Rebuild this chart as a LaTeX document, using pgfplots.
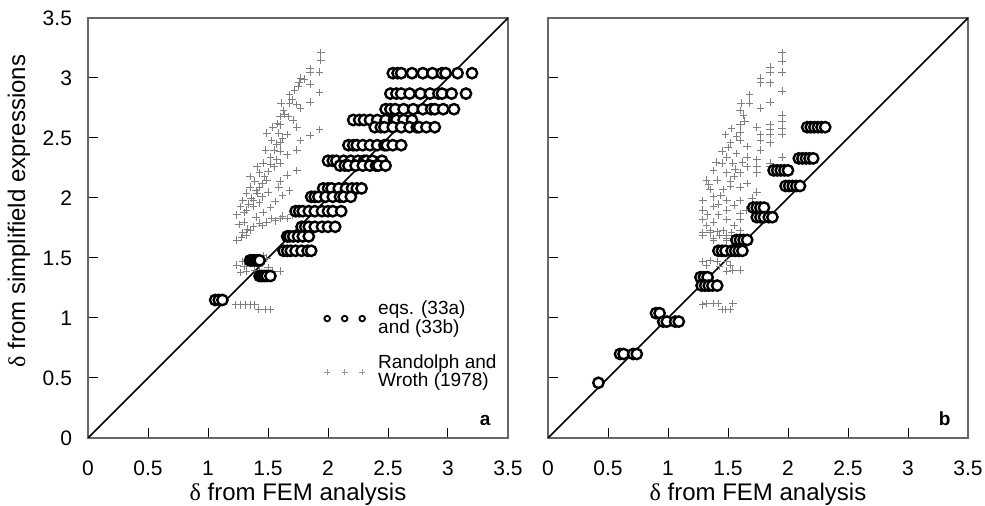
\documentclass[border=0pt]{standalone}
\usepackage{fontspec}
\setmainfont{Liberation Sans}
\newfontfamily\grk{Liberation Serif}
\usepackage{pgfplots}
\pgfplotsset{compat=1.18}
\pgfplotsset{
  panel/.style={
    scale only axis, width=210pt, height=210pt,
    xmin=0, xmax=3.5, ymin=0, ymax=3.5,
    xtick={0,0.5,1,1.5,2,2.5,3,3.5},
    ytick={0,0.5,1,1.5,2,2.5,3,3.5},
    tick align=inside, xtick pos=bottom, ytick pos=left,
    major tick length=5pt,
    tick style={black, line width=0.5pt},
    axis line style={black!60, line width=0.7pt},
    /pgf/number format/assume math mode=true,
    ticklabel style={font=\fontsize{10.5}{12}\selectfont},
    xticklabel style={anchor=base, yshift=-19pt},
    yticklabel style={xshift=-4.5pt},
    label style={font=\fontsize{12}{14}\selectfont},
    xlabel style={at={(axis description cs:0.5,-0.15)}, anchor=base},
    ylabel style={at={(axis description cs:-0.15,0.54)}, anchor=base},
    xlabel={{\grk δ} from FEM analysis},
  },
  threemarks/.style={legend image code/.code={\draw[##1] plot coordinates {(0pt,0pt)}; \draw[##1] plot coordinates {(8.75pt,0pt)}; \draw[##1] plot coordinates {(17.5pt,0pt)};}},
  crs/.style={only marks, mark=+, mark size=1.9pt, mark options={draw=black!50, line width=0.4pt}, forget plot},
  circ/.style={only marks, mark=*, mark size=2.6pt, mark options={draw=black, fill=white, line width=1.2pt}, forget plot},
  diag/.style={black, line width=0.8pt, forget plot},
}
\begin{document}
\begin{tikzpicture}
\useasboundingbox (0,0) rectangle (492.5pt,253pt);
\begin{axis}[panel, at={(44pt,34pt)}, anchor=south west,
  ylabel={{\grk δ} from simplifield expressions},
  legend style={at={(axis cs:1.965,1.18)}, anchor=north west, draw=none, fill=none,
    inner sep=0pt, row sep=5pt, font=\fontsize{9.5}{9.4}\selectfont, nodes={align=left},
    /tikz/every odd column/.append style={column sep=4.5pt}},
  legend cell align=left]
\addplot[crs] coordinates {
(1.94,3.21)(1.94,3.15)(1.85,3.08)(1.93,3.05)(1.85,3.05)(1.77,3.00)(1.76,2.96)(1.85,2.95)(1.75,2.93)(1.93,2.88)
(1.68,2.86)(1.85,2.80)(1.61,2.79)(1.68,2.79)(1.77,2.75)(1.74,2.78)(1.63,2.73)(1.60,2.68)(1.67,2.68)(1.71,2.65)
(1.54,2.59)(1.60,2.61)(1.74,2.59)(1.93,2.57)(1.85,2.52)(1.49,2.54)(1.59,2.54)(1.66,2.53)(1.77,2.48)(1.53,2.48)
(1.60,2.46)(1.48,2.40)(1.60,2.39)(1.66,2.36)(1.74,2.40)(1.52,2.34)(1.57,2.32)(1.46,2.29)(1.41,2.26)(1.52,2.28)
(1.60,2.29)(1.74,2.23)(1.66,2.19)(1.43,2.21)(1.35,2.18)(1.49,2.15)(1.39,2.14)(1.60,2.14)(1.59,2.09)(1.35,2.09)
(1.43,2.09)(1.32,2.04)(1.41,2.04)(1.50,2.05)(1.29,1.98)(1.38,1.98)(1.45,2.01)(1.27,1.93)(1.32,1.90)(1.24,1.86)
(1.38,1.93)(1.43,1.96)(1.60,1.83)(1.66,1.83)(1.53,1.83)(1.49,1.80)(1.43,1.79)(1.38,1.76)(1.35,1.73)(1.29,1.71)
(1.24,1.65)(1.32,1.69)
(1.30,1.88)(1.34,1.95)(1.36,2.00)(1.40,2.06)(1.45,2.12)(1.47,2.18)(1.50,2.22)(1.55,2.26)(1.55,2.40)(1.57,2.45)
(1.62,2.50)(1.58,2.62)(1.64,2.70)(1.70,2.82)(1.72,2.90)(1.80,2.99)(1.26,1.78)(1.30,1.80)(1.40,1.84)(1.46,1.88)
(1.52,1.92)(1.56,1.97)(1.62,2.02)(1.68,2.06)(1.28,1.67)(1.33,1.74)(1.45,1.77)(1.56,1.81)(1.62,1.85)(1.70,1.86)
(1.24,1.44)(1.29,1.47)(1.35,1.46)(1.43,1.43)(1.27,1.38)(1.32,1.39)(1.54,1.39)(1.60,1.39)(1.49,1.50)
(1.37,1.50)(1.42,1.48)(1.46,1.52)(1.30,1.43)(1.39,1.40)(1.50,1.42)
(1.23,1.11)(1.27,1.11)(1.31,1.11)(1.35,1.11)(1.39,1.11)(1.42,1.07)(1.48,1.07)(1.52,1.07)
};
\addplot[circ] coordinates {
(2.54,3.04)(2.58,3.04)(2.61,3.04)(2.70,3.04)(2.79,3.04)(2.87,3.04)(2.95,3.04)(2.98,3.04)(3.08,3.04)(3.20,3.04)
(2.52,2.87)(2.57,2.87)(2.61,2.87)(2.68,2.87)(2.77,2.87)(2.85,2.87)(2.92,2.87)(2.95,2.87)(3.03,2.87)(3.15,2.87)
(2.48,2.74)(2.52,2.74)(2.56,2.74)(2.63,2.74)(2.71,2.74)(2.79,2.74)(2.86,2.74)(2.89,2.74)(2.96,2.74)(3.05,2.74)
(2.21,2.65)(2.26,2.65)(2.30,2.65)(2.35,2.65)(2.41,2.65)(2.48,2.65)(2.55,2.65)(2.57,2.65)(2.63,2.65)(2.70,2.65)
(2.39,2.59)(2.44,2.59)(2.47,2.59)(2.54,2.59)(2.61,2.59)(2.68,2.59)(2.74,2.59)(2.76,2.59)(2.82,2.59)(2.89,2.59)
(2.17,2.44)(2.21,2.44)(2.24,2.44)(2.29,2.44)(2.35,2.44)(2.41,2.44)(2.47,2.44)(2.49,2.44)(2.54,2.44)(2.61,2.44)
(2.00,2.31)(2.04,2.31)(2.07,2.31)(2.13,2.31)(2.19,2.31)(2.25,2.31)(2.30,2.31)(2.32,2.31)(2.37,2.31)(2.45,2.31)
(2.10,2.27)(2.14,2.27)(2.17,2.27)(2.23,2.27)(2.29,2.27)(2.35,2.27)(2.40,2.27)(2.42,2.27)(2.48,2.27)
(1.96,2.08)(2.00,2.08)(2.03,2.08)(2.09,2.08)(2.15,2.08)(2.20,2.08)(2.24,2.08)(2.28,2.08)
(1.86,2.01)(1.89,2.01)(1.92,2.01)(1.98,2.01)(2.04,2.01)(2.10,2.01)(2.13,2.01)(2.19,2.01)
(1.73,1.89)(1.76,1.89)(1.79,1.89)(1.84,1.89)(1.89,1.89)(1.95,1.89)(2.00,1.89)(2.04,1.89)(2.11,1.89)
(1.78,1.76)(1.81,1.76)(1.84,1.76)(1.89,1.76)(1.95,1.76)(2.00,1.76)(2.06,1.76)
(1.66,1.68)(1.68,1.68)(1.71,1.68)(1.75,1.68)(1.79,1.68)(1.84,1.68)
(1.63,1.56)(1.66,1.56)(1.69,1.56)(1.73,1.56)(1.78,1.56)(1.83,1.56)(1.86,1.56)
(1.35,1.48)(1.37,1.48)(1.39,1.48)(1.41,1.48)(1.43,1.48)
(1.43,1.35)(1.45,1.35)(1.47,1.35)(1.49,1.35)(1.52,1.35)
(1.06,1.15)(1.09,1.15)(1.12,1.15)
};
\addplot[diag] coordinates {(0,0) (3.5,3.5)};
\addlegendimage{only marks, mark=*, mark size=1.4pt, mark options={draw=black, fill=white, line width=0.9pt}, threemarks}
\addlegendentry{eqs. (33a)\\and (33b)}
\addlegendimage{only marks, mark=+, mark size=1.5pt, mark options={draw=black!40, line width=0.4pt}, threemarks}
\addlegendentry{Randolph and\\Wroth (1978)}
\node[anchor=base east, font=\bfseries\fontsize{9.5}{10}\selectfont] at (rel axis cs:0.975,0.03) {a};
\end{axis}
\begin{axis}[panel, at={(274pt,34pt)}, anchor=south west, yticklabels={}]
\addplot[crs] coordinates {
(1.95,3.21)(1.95,3.14)(1.85,3.09)(1.95,3.05)(1.85,3.05)(1.77,3.00)(1.77,2.96)(1.85,2.96)(1.95,2.89)(1.68,2.86)
(1.85,2.80)(1.61,2.79)(1.68,2.79)(1.77,2.75)(1.60,2.73)(1.63,2.69)(1.95,2.69)(1.95,2.64)(1.85,2.61)(1.95,2.58)
(1.85,2.57)(1.95,2.53)(1.85,2.53)(1.60,2.61)(1.53,2.58)(1.60,2.55)(1.74,2.59)(1.77,2.53)(1.77,2.48)(1.48,2.53)
(1.52,2.46)(1.60,2.48)(1.66,2.43)(1.77,2.40)(1.85,2.46)(1.45,2.39)(1.57,2.37)(1.49,2.34)(1.66,2.34)(1.74,2.32)
(1.95,2.34)(1.45,2.29)(1.54,2.29)(1.66,2.26)(1.74,2.26)(1.85,2.29)(1.38,2.23)(1.49,2.21)(1.60,2.21)(1.74,2.21)
(1.85,2.26)(1.32,2.15)(1.41,2.15)(1.52,2.14)(1.66,2.12)(1.35,2.07)(1.46,2.07)(1.60,2.09)(1.29,1.98)(1.38,2.01)
(1.49,1.98)(1.60,1.98)(1.74,2.05)(1.29,1.90)(1.38,1.93)(1.49,1.90)(1.60,1.87)(1.29,1.82)(1.38,1.80)(1.49,1.82)
(1.60,1.82)(1.29,1.71)(1.35,1.73)(1.46,1.73)(1.53,1.71)(1.60,1.73)(1.38,1.65)(1.49,1.66)
(1.33,1.86)(1.42,1.95)(1.44,2.02)(1.52,2.10)(1.55,2.18)(1.56,2.24)(1.62,2.30)(1.50,2.42)(1.57,2.51)(1.64,2.64)
(1.32,1.77)(1.42,1.86)(1.55,1.94)(1.43,1.69)(1.55,1.77)(1.65,1.90)(1.70,2.00)(1.34,2.11)(1.40,2.30)
(1.29,1.69)(1.35,1.71)(1.41,1.72)(1.49,1.69)(1.38,1.66)(1.49,1.65)
(1.29,1.47)(1.35,1.48)(1.41,1.47)(1.49,1.47)(1.32,1.44)(1.43,1.43)(1.52,1.44)(1.49,1.39)(1.54,1.40)(1.60,1.40)
(1.29,1.11)(1.32,1.12)(1.38,1.12)(1.42,1.12)(1.45,1.07)(1.48,1.07)(1.52,1.07)(1.54,1.12)
};
\addplot[circ] coordinates {
(2.16,2.59)(2.19,2.59)(2.22,2.59)(2.25,2.59)(2.28,2.59)(2.31,2.59)
(2.09,2.33)(2.12,2.33)(2.15,2.33)(2.18,2.33)(2.21,2.33)
(1.88,2.23)(1.91,2.23)(1.94,2.23)(1.97,2.23)(2.00,2.23)
(1.98,2.10)(2.01,2.10)(2.04,2.10)(2.07,2.10)(2.10,2.10)
(1.71,1.92)(1.74,1.92)(1.77,1.92)(1.80,1.92)
(1.74,1.84)(1.77,1.84)(1.80,1.84)(1.84,1.84)(1.87,1.84)
(1.57,1.65)(1.60,1.65)(1.63,1.65)(1.66,1.65)
(1.42,1.56)(1.45,1.56)(1.48,1.56)(1.53,1.56)(1.56,1.56)(1.59,1.56)(1.62,1.56)
(1.27,1.34)(1.30,1.34)(1.33,1.34)
(1.28,1.27)(1.31,1.27)(1.34,1.27)(1.37,1.27)(1.41,1.27)
(0.90,1.04)(0.93,1.04)
(0.96,0.97)(0.99,0.97)(1.06,0.97)(1.09,0.97)
(0.60,0.70)(0.63,0.70)(0.71,0.70)(0.74,0.70)
(0.42,0.46)
};
\addplot[diag] coordinates {(0,0) (3.5,3.5)};
\node[anchor=base east, font=\bfseries\fontsize{9.5}{10}\selectfont] at (rel axis cs:0.975,0.03) {b};
\end{axis}
\end{tikzpicture}
\end{document}
